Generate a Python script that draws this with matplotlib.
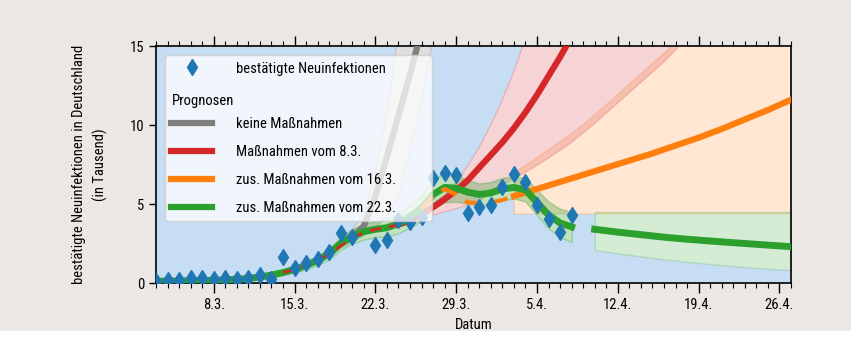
import numpy as np
import matplotlib
matplotlib.use('Agg')
import matplotlib.pyplot as plt
from matplotlib.lines import Line2D
from matplotlib.patches import Rectangle
import logging

logging.getLogger('matplotlib.font_manager').setLevel(logging.ERROR)
plt.rcParams['font.family'] = ['Liberation Sans Narrow', 'DejaVu Sans Condensed',
                               'Roboto Condensed', 'Lato', 'DejaVu Sans']

# x values are days counted from 3.3.
tick_days = [5, 12, 19, 26, 33, 40, 47, 54]
tick_labels = ['8.3.', '15.3.', '22.3.', '29.3.', '5.4.', '12.4.', '19.4.', '26.4.']

# confirmed new infections (thousands), 3.3. - 8.4. (21.3. missing)
case_days = np.arange(0, 37)
cases = [0.15, 0.2, 0.2, 0.3, 0.3, 0.23, 0.3, 0.23, 0.34, 0.5, 0.25, 1.63, 0.93,
         1.25, 1.5, 1.98, 3.14, 2.93, np.nan, 2.4, 2.72, 3.99, 3.88, 4.2, 6.65,
         6.96, 6.84, 4.45, 4.8, 4.94, 6.06, 6.9, 6.37, 4.94, 4.05, 3.25, 4.3]

# model fit (green) up to 8.4.
fit_days = np.arange(0, 37)
fit_green = [0.12, 0.12, 0.13, 0.14, 0.15, 0.17, 0.2, 0.24, 0.3, 0.38, 0.5, 0.66,
             0.87, 1.1, 1.45, 1.85, 2.5, 2.95, 3.25, 3.4, 3.5, 3.75, 4.2, 4.75,
             5.6, 6.05, 6.0, 5.75, 5.6, 5.7, 5.95, 6.05, 5.9, 5.1, 4.3, 3.8, 3.55]
band_days = np.arange(10, 37)
band_lo = [0.38, 0.51, 0.67, 0.85, 1.15, 1.5, 2.1, 2.5, 2.75, 2.9, 2.95, 3.15, 3.5,
           3.95, 4.7, 5.1, 5.15, 5.0, 4.9, 5.0, 5.25, 5.35, 5.15, 4.3, 3.45, 2.9, 2.6]
band_hi = [0.62, 0.81, 1.07, 1.35, 1.75, 2.2, 2.9, 3.4, 3.75, 3.9, 4.05, 4.35, 4.9,
           5.55, 6.5, 7.0, 6.85, 6.5, 6.3, 6.4, 6.65, 6.75, 6.65, 5.9, 5.15, 4.7, 4.5]

# keine Massnahmen (grey)
gray_days = np.arange(15, 24)
gray = [1.85, 2.5, 2.95, 3.6, 5.5, 8.0, 10.6, 13.2, 16.0]
gray_band_days = np.arange(16, 25)
gray_lo = [2.2, 2.6, 3.0, 3.5, 4.2, 5.5, 8.5, 11.5, 15.5]
gray_hi = [2.8, 3.4, 4.3, 7.0, 10.5, 16, 22, 30, 40]

# Massnahmen vom 8.3. (red)
red_fit_days = np.arange(11, 22)
red_fit = [0.66, 0.87, 1.1, 1.45, 1.85, 2.35, 2.85, 3.2, 3.4, 3.5, 3.7]
red_days = np.arange(21, 37)
red = [3.7, 3.95, 4.35, 4.8, 5.3, 5.85, 6.5, 7.3, 8.1, 8.9, 9.8, 10.8, 11.9,
       13.1, 14.3, 15.6]
red_band_days = [24, 25, 26, 27, 28, 29, 30, 31, 32, 34, 36, 38, 40, 42, 44, 46, 48, 55]
red_lo = [4.3, 4.5, 4.7, 4.95, 5.2, 5.7, 6.2, 6.6, 7.0, 7.9, 8.9, 10.1, 11.4, 12.7,
          14.0, 15.5, 17.0, 25.0]
red_hi = [5.0, 5.6, 6.4, 7.4, 8.6, 10.0, 11.6, 13.4, 15.5, 20, 26, 32, 40, 48, 56,
          64, 72, 90]

# zus. Massnahmen vom 16.3. (orange)
orange_fit_days = np.arange(23, 32)
orange_fit = [4.7, 5.5, 5.95, 5.6, 5.1, 5.05, 5.1, 5.25, 5.5]
orange_days = np.arange(31, 56, 2)
orange = [5.5, 5.95, 6.4, 6.85, 7.3, 7.75, 8.2, 8.7, 9.2, 9.75, 10.35, 10.95, 11.6]
orange_band_days = [31, 32, 34, 36, 38, 40, 42, 44, 46, 48, 52, 55]
orange_lo = [4.4] * 12
orange_hi = [7.0, 7.5, 8.5, 9.5, 10.7, 12.0, 13.3, 14.6, 16.0, 17.5, 21.0, 24.0]

# zus. Massnahmen vom 22.3. (green forecast)
green_fc_days = [38, 40, 42, 44, 46, 48, 50, 52, 54, 55]
green_fc = [3.4, 3.22, 3.06, 2.9, 2.77, 2.66, 2.55, 2.45, 2.35, 2.3]
green_fc_lo = [2.1, 1.88, 1.68, 1.5, 1.34, 1.2, 1.07, 0.96, 0.86, 0.82]
green_fc_hi = [4.5, 4.5, 4.5, 4.5, 4.5, 4.5, 4.5, 4.5, 4.5, 4.5]

c_gray, c_red, c_orange, c_green, c_blue = '#7f7f7f', '#d62728', '#ff7f0e', '#2ca02c', '#1f77b4'
fs = 10.5

fig = plt.figure(figsize=(8.51, 3.37), dpi=100, facecolor='#ebe7e4')
fig.patches.append(Rectangle((0, 0), 1, 6 / 337, transform=fig.transFigure,
                             color='white', zorder=0))
ax = fig.add_axes([0.1833, 0.1602, 0.7462, 0.7033])
ax.set_facecolor('#c6ddf3')

bands = [(gray_band_days, gray_lo, gray_hi, c_gray, 0.25),
         (orange_band_days, orange_lo, orange_hi, c_orange, 0.18),
         (red_band_days, red_lo, red_hi, c_red, 0.2),
         (band_days, band_lo, band_hi, c_green, 0.3),
         (green_fc_days, green_fc_lo, green_fc_hi, c_green, 0.2)]
for d, lo, hi, c, a in bands:
    ax.fill_between(d, lo, hi, color='white', lw=0, zorder=1)
for d, lo, hi, c, a in bands:
    ax.fill_between(d, lo, hi, color=c, alpha=a, zorder=2)

ax.plot(gray_days, gray, color=c_gray, lw=4.5, zorder=3)
ax.plot(red_days, red, color=c_red, lw=4.5, zorder=3)
ax.plot(orange_days, orange, color=c_orange, lw=4.5, zorder=3)
ax.plot(fit_days, fit_green, color=c_green, lw=5, zorder=3.5)
ax.plot(green_fc_days, green_fc, color=c_green, lw=5, zorder=3.5)
ax.plot(red_fit_days, red_fit, color=c_red, lw=2, ls=(0, (4, 3)), zorder=3.6)
ax.plot(orange_fit_days, orange_fit, color=c_orange, lw=3, ls=(0, (4, 2.5)), zorder=3.6)
ax.plot(case_days, cases, 'd', color=c_blue, ms=8, zorder=4)

ax.set_xlim(0, 55)
ax.set_ylim(0, 15)
ax.set_xticks(tick_days)
ax.set_xticklabels(tick_labels)
ax.set_xticks(np.arange(0, 56), minor=True)
ax.set_yticks([0, 5, 10, 15])
ax.tick_params(axis='x', which='both', direction='out', top=True, bottom=True,
               labelsize=fs, pad=4)
ax.tick_params(axis='x', which='major', length=7, width=1)
ax.tick_params(axis='x', which='minor', length=3.5, width=0.8)
ax.tick_params(axis='y', direction='out', length=5, width=1, labelsize=fs)
for s in ax.spines.values():
    s.set_linewidth(1.2)

ax.set_xlabel('Datum', fontsize=fs, labelpad=4)
ax.set_ylabel('bestätigte Neuinfektionen in Deutschland\n(in Tausend)', fontsize=fs,
              linespacing=1.6)
ax.yaxis.set_label_coords(-0.075, 0.5)

handles = [Line2D([], [], marker='d', ls='none', color=c_blue, ms=8),
           Line2D([], [], ls='none'),
           Line2D([], [], color=c_gray, lw=4.5),
           Line2D([], [], color=c_red, lw=4.5),
           Line2D([], [], color=c_orange, lw=4.5),
           Line2D([], [], color=c_green, lw=4.5)]
labels = ['bestätigte Neuinfektionen', '', 'keine Maßnahmen', 'Maßnahmen vom 8.3.',
          'zus. Maßnahmen vom 16.3.', 'zus. Maßnahmen vom 22.3.']
leg = ax.legend(handles, labels, loc='upper left', bbox_to_anchor=(0.014, 0.274, 0.421, 0.688),
                mode='expand', borderaxespad=0, borderpad=0.45, handlelength=2.8,
                handletextpad=1.6, labelspacing=0.95, fontsize=fs, framealpha=0.75,
                edgecolor='#cccccc', fancybox=True)
leg.set_zorder(10)
ax.text(0.025, 0.768, 'Prognosen', transform=ax.transAxes, fontsize=fs,
        va='center', ha='left', zorder=11)

fig.savefig('out.png', dpi=100, facecolor=fig.get_facecolor())
